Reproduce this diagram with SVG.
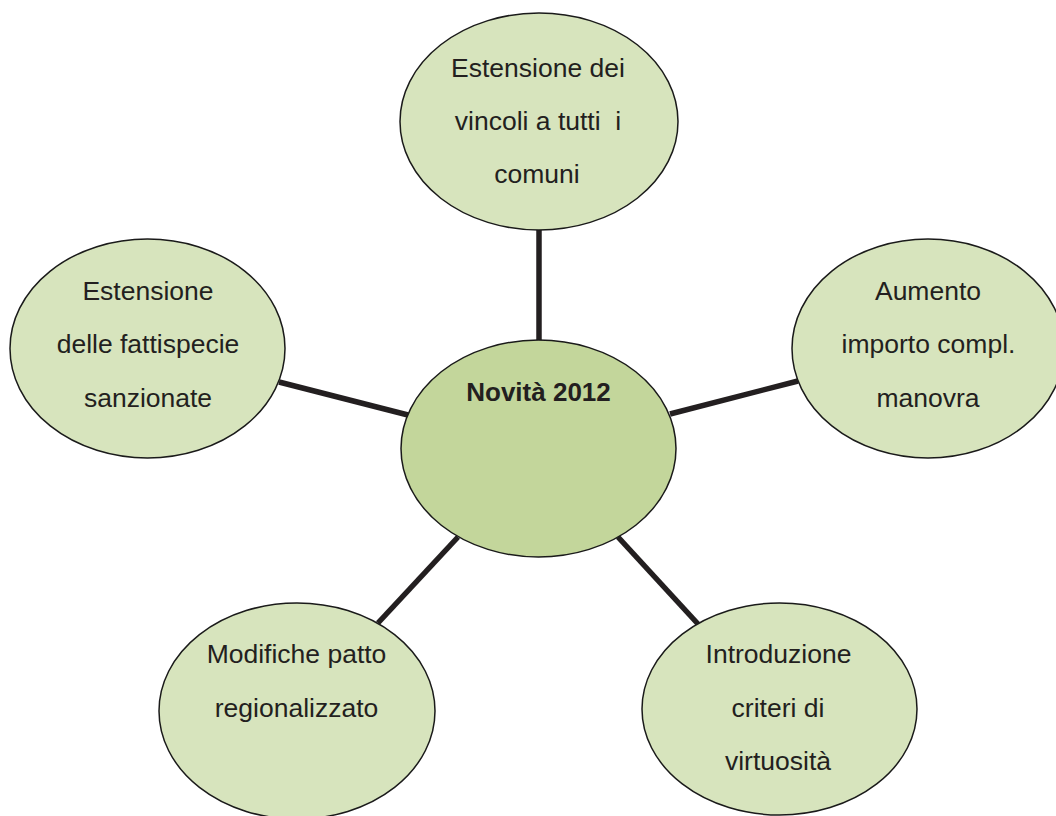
<svg xmlns="http://www.w3.org/2000/svg" width="1056" height="816" viewBox="0 0 1056 816">
<style>
.leaf{fill:#d7e4bd;stroke:#1a1a1a;stroke-width:1.5}
.hub{fill:#c3d69b;stroke:#1a1a1a;stroke-width:1.5}
.t{font-family:"Liberation Sans",Arial,sans-serif;font-size:26.5px;fill:#231f20;text-anchor:middle}
.b{font-weight:bold;font-size:26px}
.c{stroke:#231f20;stroke-width:5.5;fill:none}
</style>
<rect width="1056" height="816" fill="#ffffff"/>
<g id="connectors">
<line class="c" x1="539" y1="230" x2="539" y2="341"/>
<line class="c" x1="279" y1="382" x2="408" y2="415"/>
<line class="c" x1="670" y1="414" x2="798" y2="381"/>
<line class="c" x1="458" y1="537" x2="378" y2="623"/>
<line class="c" x1="618" y1="537" x2="698" y2="624"/>
</g>
<g id="hub">
<ellipse class="hub" cx="538.5" cy="448.5" rx="137.5" ry="108.5"/>
<text class="t b" x="538.5" y="401">Novità 2012</text>
</g>
<g id="top">
<ellipse class="leaf" cx="539" cy="121.5" rx="139" ry="108.5"/>
<text class="t" x="538" y="77">Estensione dei</text>
<text class="t" x="538" y="130" xml:space="preserve">vincoli a tutti  i</text>
<text class="t" x="537" y="183">comuni</text>
</g>
<g id="left">
<ellipse class="leaf" cx="147.5" cy="348.5" rx="137.5" ry="109.5"/>
<text class="t" x="148" y="300">Estensione</text>
<text class="t" x="148" y="353">delle fattispecie</text>
<text class="t" x="148" y="407">sanzionate</text>
</g>
<g id="right">
<ellipse class="leaf" cx="928" cy="348.5" rx="136" ry="109.5"/>
<text class="t" x="928" y="300">Aumento</text>
<text class="t" x="928.5" y="353">importo compl.</text>
<text class="t" x="928" y="407">manovra</text>
</g>
<g id="bottom-left">
<ellipse class="leaf" cx="297" cy="711" rx="138" ry="108"/>
<text class="t" x="296.5" y="663">Modifiche patto</text>
<text class="t" x="296.5" y="717">regionalizzato</text>
</g>
<g id="bottom-right">
<ellipse class="leaf" cx="779.5" cy="709" rx="137.5" ry="106"/>
<text class="t" x="778.5" y="663">Introduzione</text>
<text class="t" x="778" y="717">criteri di</text>
<text class="t" x="778" y="770">virtuosità</text>
</g>
</svg>
